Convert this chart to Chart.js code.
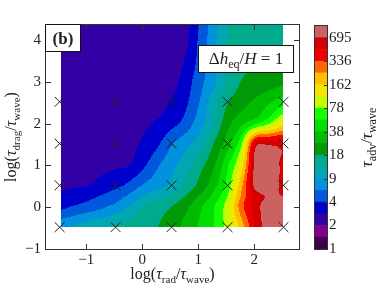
<!DOCTYPE html>
<html>
<head>
<meta charset="utf-8">
<script src="https://cdn.jsdelivr.net/npm/chart.js@4.4.1/dist/chart.umd.min.js"></script>
<style>
  body { margin: 0; background: #fff; }
  #wrap { position: relative; width: 382px; height: 287px; }
  canvas { position: absolute; top: 0; }
  #main { left: 0; }
  #cbar { left: 300px; }
</style>
</head>
<body>
<div id="wrap">
  <canvas id="main" width="382" height="287"></canvas>
  <canvas id="cbar" width="82" height="287"></canvas>
</div>
<script>
// --- Data ---
const xTicks = [-1, 0, 1, 2];
const yTicks = [-1, 0, 1, 2, 3, 4];

// simulation points (crosses)
const simX = [-1.477, -0.477, 0.523, 1.523, 2.523];
const simY = [-0.477, 0.523, 1.523, 2.523];

// log10(tau_adv / tau_wave) on a rectilinear grid
const gridX = [-1.477, -1.227, -0.977, -0.727, -0.477, -0.227, 0.023, 0.273, 0.523,
               0.773, 1.023, 1.273, 1.523, 1.773, 2.023, 2.273, 2.523];
const gridY = [-0.477, 0.023, 0.273, 0.523, 1.023, 1.523, 2.023, 2.523, 3.023, 3.523, 4.023, 4.523];
const logTau = [
  [0.90, 0.958, 1.017, 1.075, 1.127, 1.172, 1.217, 1.263, 1.358, 1.467, 1.599, 1.737, 1.967, 2.294, 2.709, 2.95, 2.96],
  [0.586, 0.643, 0.70, 0.757, 0.84, 0.966, 1.11, 1.186, 1.263, 1.385, 1.543, 1.724, 1.985, 2.466, 2.777, 2.92, 2.95],
  [0.513, 0.549, 0.585, 0.64, 0.713, 0.818, 0.955, 1.034, 1.123, 1.266, 1.427, 1.619, 1.893, 2.393, 2.76, 2.86, 2.84],
  [0.44, 0.455, 0.47, 0.523, 0.586, 0.67, 0.80, 0.882, 0.982, 1.146, 1.31, 1.513, 1.80, 2.32, 2.905, 2.95, 2.80],
  [0.40, 0.405, 0.415, 0.43, 0.45, 0.47, 0.597, 0.764, 0.893, 1.03, 1.197, 1.392, 1.705, 2.11, 2.90, 2.96, 2.80],
  [0.385, 0.39, 0.395, 0.405, 0.42, 0.445, 0.496, 0.601, 0.774, 0.891, 1.028, 1.263, 1.511, 1.867, 2.75, 2.80, 2.78],
  [0.375, 0.38, 0.385, 0.39, 0.40, 0.42, 0.45, 0.491, 0.573, 0.688, 0.881, 1.105, 1.365, 1.532, 1.685, 1.868, 2.108],
  [0.37, 0.372, 0.375, 0.38, 0.385, 0.39, 0.40, 0.42, 0.489, 0.60, 0.789, 1.037, 1.25, 1.357, 1.458, 1.558, 1.659],
  [0.365, 0.366, 0.368, 0.37, 0.372, 0.375, 0.38, 0.39, 0.417, 0.547, 0.731, 0.905, 1.126, 1.266, 1.303, 1.34, 1.378],
  [0.36, 0.362, 0.364, 0.366, 0.368, 0.37, 0.375, 0.385, 0.40, 0.486, 0.685, 0.93, 1.128, 1.21, 1.27, 1.29, 1.30],
  [0.355, 0.357, 0.359, 0.36, 0.362, 0.365, 0.37, 0.38, 0.40, 0.44, 0.664, 0.894, 1.107, 1.13, 1.153, 1.176, 1.2],
  [0.35, 0.352, 0.354, 0.356, 0.358, 0.36, 0.365, 0.372, 0.39, 0.42, 0.63, 0.87, 1.10, 1.12, 1.14, 1.16, 1.19]
];

// colour bar: 19 bands between 10^0 and 10^3, every second edge labelled
const cbLabels = ['1', '2', '4', '9', '18', '38', '78', '162', '336', '695'];
const bandColors = [
  '#3e0048', '#810092', '#3200a4', '#0000cd', '#0058dd', '#0092dd', '#00a7b2',
  '#00aa8c', '#009a07', '#00bb00', '#00df00', '#14ff00', '#c3fc00', '#f2e700',
  '#ffbe00', '#ff6800', '#f20000', '#d60000', '#cc6161'
];
const bandTop = 3;
const bandStep = bandTop / bandColors.length;
const fillXMin = -1.45;

const FONT = '"Liberation Serif", "DejaVu Serif", serif';
const INK = '#222';

// --- helpers ---
function catmull(p0, p1, p2, p3, t) {
  return p1 + 0.5 * t * (p2 - p0 + t * (2 * p0 - 5 * p1 + 4 * p2 - p3 + t * (3 * (p1 - p2) + p3 - p0)));
}

// cell index and fraction of v inside a sorted axis
function locate(axis, v) {
  let i = 0;
  while (i < axis.length - 2 && v >= axis[i + 1]) i++;
  return [i, (v - axis[i]) / (axis[i + 1] - axis[i])];
}

function fieldAt(xv, yv) {
  const nx = gridX.length, ny = gridY.length;
  const [ix, tx] = locate(gridX, xv);
  const [iy, ty] = locate(gridY, yv);
  const cx = k => Math.min(nx - 1, Math.max(0, k));
  const cy = k => Math.min(ny - 1, Math.max(0, k));
  const col = [];
  for (let j = -1; j <= 2; j++) {
    const r = logTau[cy(iy + j)];
    col.push(catmull(r[cx(ix - 1)], r[cx(ix)], r[cx(ix + 1)], r[cx(ix + 2)], tx));
  }
  return catmull(col[0], col[1], col[2], col[3], ty);
}

function bandOf(v) {
  return Math.min(bandColors.length - 1, Math.max(2, Math.floor(v / bandStep)));
}

// text with italic parts and subscripts: parts = [[text, 'r'|'i'|'s'|'b'], ...]
function drawMath(ctx, parts, x, y, size) {
  const fontFor = st => (st === 'i' ? 'italic ' : st === 'b' ? 'bold ' : '') +
    (st === 's' ? Math.round(size * 0.7) : size) + 'px ' + FONT;
  let w = 0;
  parts.forEach(([t, st]) => { ctx.font = fontFor(st); w += ctx.measureText(t).width; });
  let cx = x - w / 2;
  ctx.textAlign = 'left';
  ctx.textBaseline = 'alphabetic';
  parts.forEach(([t, st]) => {
    ctx.font = fontFor(st);
    ctx.fillText(t, cx, y + (st === 's' ? size * 0.22 : 0));
    cx += ctx.measureText(t).width;
  });
}

function fmtTick(v) {
  return v < 0 ? '\u2212' + Math.abs(v) : String(v);
}

// --- filled contour drawn through the chart scales ---
const contourPlugin = {
  id: 'contour',
  beforeDatasetsDraw(chart) {
    const { ctx, chartArea, scales: { x, y } } = chart;
    const left = Math.round(x.getPixelForValue(fillXMin));
    const right = Math.round(x.getPixelForValue(gridX[gridX.length - 1]));
    const top = Math.max(Math.round(chartArea.top), Math.round(y.getPixelForValue(gridY[gridY.length - 1])));
    const bottom = Math.round(y.getPixelForValue(gridY[0]));
    ctx.save();
    for (let py = top; py < bottom; py++) {
      const yv = y.getValueForPixel(py + 0.5);
      let runStart = left, runBand = -1;
      for (let px = left; px <= right; px++) {
        const band = px < right ? bandOf(fieldAt(x.getValueForPixel(px + 0.5), yv)) : -2;
        if (band !== runBand) {
          if (runBand >= 0) {
            ctx.fillStyle = bandColors[runBand];
            ctx.fillRect(runStart, py, px - runStart, 1);
          }
          runStart = px;
          runBand = band;
        }
      }
    }
    ctx.restore();
  }
};

// --- frame, inward ticks, labels and boxes ---
const decorPlugin = {
  id: 'decor',
  afterDatasetsDraw(chart) {
    const { ctx, chartArea: a, scales: { x, y } } = chart;
    ctx.save();
    ctx.strokeStyle = '#333';
    ctx.lineWidth = 1;
    ctx.beginPath();
    xTicks.forEach(v => {
      const px = Math.round(x.getPixelForValue(v)) + 0.5;
      ctx.moveTo(px, a.bottom); ctx.lineTo(px, a.bottom - 5);
      ctx.moveTo(px, a.top); ctx.lineTo(px, a.top + 5);
    });
    yTicks.forEach(v => {
      const py = Math.round(y.getPixelForValue(v)) + 0.5;
      ctx.moveTo(a.left, py); ctx.lineTo(a.left + 5, py);
      ctx.moveTo(a.right, py); ctx.lineTo(a.right - 5, py);
    });
    ctx.stroke();
    ctx.strokeRect(a.left - 0.5, a.top - 0.5, a.right - a.left + 1, a.bottom - a.top + 1);

    // panel label
    ctx.fillStyle = '#fff';
    ctx.fillRect(a.left - 0.5, a.top - 0.5, 35, 27);
    ctx.strokeStyle = '#111';
    ctx.strokeRect(a.left - 0.5, a.top - 0.5, 35, 27);
    ctx.fillStyle = INK;
    drawMath(ctx, [['(b)', 'b']], a.left + 17, a.top + 19, 17);

    // parameter box
    ctx.fillStyle = '#fff';
    ctx.fillRect(198.5, 45.5, 95, 27);
    ctx.strokeRect(198.5, 45.5, 95, 27);
    ctx.fillStyle = INK;
    drawMath(ctx, [['\u0394', 'r'], ['h', 'i'], ['eq', 's'], ['/', 'r'], ['H', 'i'], [' = 1', 'r']], 246, 64, 17);

    // axis titles
    drawMath(ctx, [['log(', 'r'], ['\u03c4', 'i'], ['rad', 's'], ['/', 'r'], ['\u03c4', 'i'], ['wave', 's'], [')', 'r']],
      (a.left + a.right) / 2, 279, 16);
    ctx.translate(16, (a.top + a.bottom) / 2);
    ctx.rotate(-Math.PI / 2);
    drawMath(ctx, [['log(', 'r'], ['\u03c4', 'i'], ['drag', 's'], ['/', 'r'], ['\u03c4', 'i'], ['wave', 's'], [')', 'r']],
      0, 0, 16);
    ctx.restore();
  }
};

const crossPoints = [];
simY.forEach(yv => simX.forEach(xv => crossPoints.push({ x: xv, y: yv })));

new Chart(document.getElementById('main'), {
  type: 'scatter',
  data: {
    datasets: [{
      data: crossPoints,
      pointStyle: 'crossRot',
      pointRadius: 7,
      borderColor: '#222',
      borderWidth: 1,
      backgroundColor: 'rgba(0,0,0,0)'
    }]
  },
  options: {
    responsive: false,
    animation: false,
    events: [],
    layout: { padding: { left: 0, top: 25, right: 83, bottom: 0 } },
    plugins: { legend: { display: false }, tooltip: { enabled: false } },
    scales: {
      x: {
        type: 'linear', min: -1.72, max: 2.8,
        afterFit: s => { s.height = 38; },
        afterBuildTicks: s => { s.ticks = xTicks.map(v => ({ value: v })); },
        ticks: { callback: fmtTick, color: INK, font: { family: FONT, size: 15 }, padding: 2, maxRotation: 0 },
        grid: { display: false, drawTicks: false },
        border: { display: false }
      },
      y: {
        type: 'linear', min: -1, max: 4.36,
        afterFit: s => { s.width = 46; },
        afterBuildTicks: s => { s.ticks = yTicks.map(v => ({ value: v })); },
        ticks: { callback: fmtTick, color: INK, font: { family: FONT, size: 15 }, padding: 5 },
        grid: { display: false, drawTicks: false },
        border: { display: false }
      }
    }
  },
  plugins: [contourPlugin, decorPlugin]
});

// --- colour bar ---
const cbarPlugin = {
  id: 'cbarDecor',
  afterDraw(chart) {
    const { ctx, chartArea: a, scales: { y } } = chart;
    ctx.save();
    ctx.strokeStyle = '#333';
    ctx.lineWidth = 1;
    ctx.beginPath();
    cbLabels.forEach((l, i) => {
      const py = Math.round(y.getPixelForValue(2 * i * bandStep)) + 0.5;
      ctx.moveTo(a.right, py); ctx.lineTo(a.right - 3, py);
    });
    ctx.stroke();
    ctx.strokeRect(a.left - 0.5, a.top - 0.5, a.right - a.left + 1, a.bottom - a.top + 1);
    ctx.fillStyle = INK;
    ctx.translate(72, (a.top + a.bottom) / 2);
    ctx.rotate(-Math.PI / 2);
    drawMath(ctx, [['\u03c4', 'i'], ['adv', 's'], ['/', 'r'], ['\u03c4', 'i'], ['wave', 's']], 0, 0, 17);
    ctx.restore();
  }
};

new Chart(document.getElementById('cbar'), {
  type: 'bar',
  data: {
    labels: [''],
    datasets: bandColors.map(c => ({
      data: [bandStep],
      backgroundColor: c,
      borderWidth: 0,
      barPercentage: 1,
      categoryPercentage: 1
    }))
  },
  options: {
    responsive: false,
    animation: false,
    events: [],
    layout: { padding: { left: 15, top: 26, right: 0, bottom: 38 } },
    plugins: { legend: { display: false }, tooltip: { enabled: false } },
    scales: {
      x: { display: false, stacked: true },
      y: {
        stacked: true, position: 'right', min: 0, max: bandTop,
        afterFit: s => { s.width = 55; },
        afterBuildTicks: s => { s.ticks = cbLabels.map((l, i) => ({ value: 2 * i * bandStep })); },
        ticks: { callback: (v, i) => cbLabels[i], color: INK, font: { family: FONT, size: 15 }, padding: 2, autoSkip: false },
        grid: { display: false, drawTicks: false },
        border: { display: false }
      }
    }
  },
  plugins: [cbarPlugin]
});
</script>
</body>
</html>
